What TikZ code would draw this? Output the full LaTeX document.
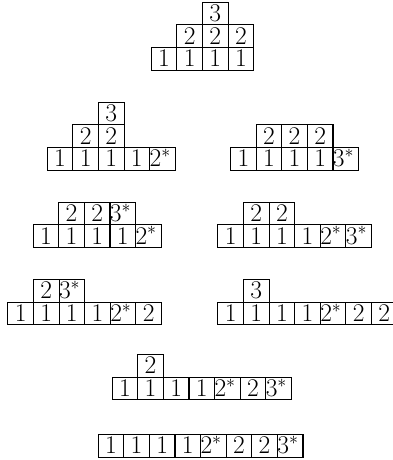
\RequirePackage{fix-cm}
\documentclass[tikz,border=0pt]{standalone}
\newlength\cw \setlength\cw{25.6pt}
\newlength\ch \setlength\ch{22.6pt}
\newcommand\starred[1]{\makebox[\cw][l]{$#1^{*}$}}
\newcommand\tabrow[4]{\foreach \t [count=\i from #3] in {#4} {\node[cell] (#1-#2-\i) at (\i,#2) {\t};}}
\tikzset{
  cell/.style={draw, line width=1.1pt, rectangle, anchor=north west,
    minimum width=\cw, minimum height=\ch, inner sep=0pt,
    text height=16.2pt, text depth=0pt,
    font=\fontsize{25.5}{30}\selectfont},
  tab/.style={x=\cw, y=-\ch}
}
\begin{document}
\begin{tikzpicture}[x=1pt,y=-1pt]
\useasboundingbox (0,0) rectangle (392,460);
% D1
\begin{scope}[shift={(150.7pt,-1.7pt)},tab]
\tabrow{a}{0}{2}{3}
\tabrow{a}{1}{1}{2,2,2}
\tabrow{a}{2}{0}{1,1,1,1}
\end{scope}
% D2
\begin{scope}[shift={(46.7pt,-101.7pt)},tab]
\tabrow{b}{0}{2}{3}
\tabrow{b}{1}{1}{2,2}
\tabrow{b}{2}{0}{1,1,1,1,\starred{2}}
\end{scope}
% D3
\begin{scope}[shift={(230pt,-124.3pt)},tab]
\tabrow{c}{0}{1}{2,2,2}
\tabrow{c}{1}{0}{1,1,1,1,\starred{3}}
\end{scope}
% D4
\begin{scope}[shift={(32.6pt,-201.7pt)},tab]
\tabrow{d}{0}{1}{2,2,\starred{3}}
\tabrow{d}{1}{0}{1,1,1,1,\starred{2}}
\end{scope}
% D5
\begin{scope}[shift={(217.3pt,-201.7pt)},tab]
\tabrow{e}{0}{1}{2,2}
\tabrow{e}{1}{0}{1,1,1,1,\starred{2},\starred{3}}
\end{scope}
% D6
\begin{scope}[shift={(7.3pt,-279pt)},tab]
\tabrow{f}{0}{1}{2,\starred{3}}
\tabrow{f}{1}{0}{1,1,1,1,\starred{2},2}
\end{scope}
% D7
\begin{scope}[shift={(217.3pt,-279pt)},tab]
\tabrow{g}{0}{1}{3}
\tabrow{g}{1}{0}{1,1,1,1,\starred{2},2,2}
\end{scope}
% D8
\begin{scope}[shift={(111.6pt,-354pt)},tab]
\tabrow{h}{0}{1}{2}
\tabrow{h}{1}{0}{1,1,1,1,\starred{2},2,\starred{3}}
\end{scope}
% D9
\begin{scope}[shift={(97.6pt,-434pt)},tab]
\tabrow{k}{0}{0}{1,1,1,1,\starred{2},2,2,\starred{3}}
\end{scope}
\end{tikzpicture}
\end{document}
